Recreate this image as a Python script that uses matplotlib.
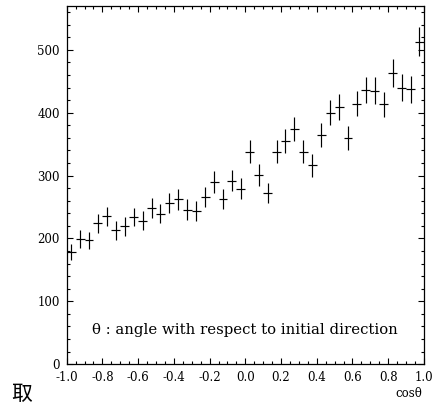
import numpy as np
import matplotlib
matplotlib.use('Agg')
import matplotlib.pyplot as plt
from matplotlib.ticker import MultipleLocator, FormatStrFormatter

plt.rcParams['font.family'] = ['DejaVu Serif']
plt.rcParams['axes.unicode_minus'] = False

# cos(theta) bin centres (bin width 0.05) and counts
bin_centers = [-0.975, -0.925, -0.875, -0.825, -0.775, -0.725, -0.675, -0.625,
               -0.575, -0.525, -0.475, -0.425, -0.375, -0.325, -0.275, -0.225,
               -0.175, -0.125, -0.075, -0.025, 0.025, 0.075, 0.125, 0.175,
               0.225, 0.275, 0.325, 0.375, 0.425, 0.475, 0.525, 0.575,
               0.625, 0.675, 0.725, 0.775, 0.825, 0.875, 0.925, 0.975]
counts = [178, 199, 197, 224, 235, 213, 219, 234,
          228, 249, 239, 256, 262, 246, 244, 266,
          290, 263, 292, 279, 338, 301, 272, 338,
          355, 374, 338, 316, 365, 400, 409, 360,
          414, 436, 435, 413, 463, 440, 437, 513]
count_err = [13, 14, 14, 15, 15, 15, 15, 15,
             15, 16, 15, 16, 16, 16, 16, 16,
             17, 16, 17, 17, 18, 17, 16, 18,
             19, 19, 18, 18, 19, 20, 20, 19,
             20, 21, 21, 20, 22, 21, 21, 23]
half_bin = 0.025

fig = plt.figure(figsize=(4.33, 4.12), dpi=100)
ax = fig.add_axes([0.154, 0.116, 0.825, 0.870])

ax.errorbar(bin_centers, counts, xerr=half_bin, yerr=count_err, fmt='none',
            ecolor='black', elinewidth=0.85, capsize=0)

ax.set_xlim(-1.0, 1.0)
ax.set_ylim(0, 570)
ax.xaxis.set_major_locator(MultipleLocator(0.2))
ax.xaxis.set_minor_locator(MultipleLocator(0.05))
ax.yaxis.set_major_locator(MultipleLocator(100))
ax.yaxis.set_minor_locator(MultipleLocator(20))
ax.xaxis.set_major_formatter(FormatStrFormatter('%.1f'))
ax.tick_params(which='both', direction='in', top=True, right=True,
               labelsize=8.5, width=0.8, pad=5)
ax.tick_params(which='major', length=4)
ax.tick_params(which='minor', length=2.2)
for s in ax.spines.values():
    s.set_linewidth(0.9)

ax.text(0.5, 0.095, 'θ : angle with respect to initial direction',
        transform=ax.transAxes, ha='center', va='center', fontsize=10.7)

fig.text(0.975, 0.046, 'cosθ', ha='right', va='center', fontsize=8.5)
fig.text(0.025, 0.043, '取', ha='left', va='center', fontsize=15,
         family=['Noto Sans CJK SC', 'DejaVu Sans'])

fig.savefig('out.png', dpi=100)
